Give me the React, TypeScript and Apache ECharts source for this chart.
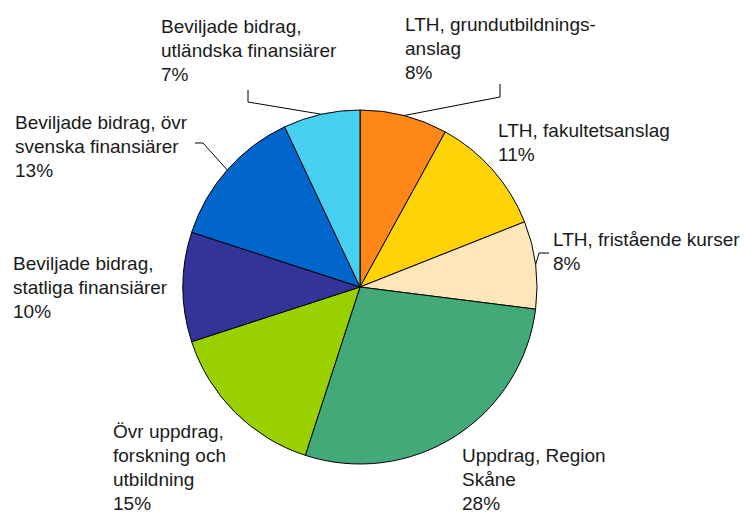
import React, { useEffect, useRef } from "react";
import * as echarts from "echarts";

const categories = [
  "LTH, grundutbildnings-\nanslag",
  "LTH, fakultetsanslag",
  "LTH, fristående kurser",
  "Uppdrag, Region\nSkåne",
  "Övr uppdrag,\nforskning och\nutbildning",
  "Beviljade bidrag,\nstatliga finansiärer",
  "Beviljade bidrag, övr\nsvenska finansiärer",
  "Beviljade bidrag,\nutländska finansiärer",
];
const values = [8, 11, 8, 28, 15, 10, 13, 7];
const colors = ["#FF8717", "#FFD308", "#FFE6B8", "#44A978", "#99D100", "#333399", "#0066CC", "#47CFF2"];
const hasLeader = [true, false, true, false, false, false, true, true];

// label layout (top-left of text box) and leader bends
const labelPos: [number, number][] = [
  [405, 12],
  [498, 118],
  [553, 227],
  [462, 443],
  [113, 419],
  [13, 251],
  [15, 110],
  [161, 14],
];
const leaderBends: ([number, number][] | null)[] = [
  [[500, 97], [500, 84]],
  null,
  [[539, 253], [549, 253]],
  null,
  null,
  null,
  [[203, 143], [195, 143]],
  [[248, 102], [248, 90]],
];

export default function App() {
  const ref = useRef<HTMLDivElement>(null);
  useEffect(() => {
    if (!ref.current) return;
    const chart = echarts.init(ref.current, undefined, { renderer: "svg" });
    chart.setOption({
      animation: false,
      backgroundColor: "#ffffff",
      series: [
        {
          type: "pie",
          center: [360, 287],
          radius: 177,
          startAngle: 90,
          clockwise: true,
          avoidLabelOverlap: false,
          silent: true,
          itemStyle: { borderColor: "#000", borderWidth: 1 },
          label: {
            show: true,
            position: "outside",
            color: "#1a1a1a",
            fontFamily: "'Liberation Sans', Arial, sans-serif",
            fontSize: 19,
            lineHeight: 24,
            align: "left",
            formatter: (p: any) => `${p.name}\n${Math.round(p.percent)}%`,
          },
          labelLine: {
            show: true,
            length: 10,
            length2: 10,
            lineStyle: { color: "#000", width: 1 },
          },
          labelLayout: (params: any) => {
            const i = params.dataIndex;
            const [x, y] = labelPos[i];
            const res: any = { x, y, align: "left", verticalAlign: "top" };
            const bends = leaderBends[i];
            if (bends && params.labelLinePoints) {
              res.labelLinePoints = [params.labelLinePoints[0], ...bends];
            }
            return res;
          },
          data: categories.map((name, i) => ({
            name,
            value: values[i],
            itemStyle: { color: colors[i] },
            labelLine: { show: hasLeader[i] },
          })),
        },
      ],
    });
    return () => chart.dispose();
  }, []);
  return (
    <div
      ref={ref}
      style={{ position: "fixed", left: 0, top: 0, width: 744, height: 515 }}
    />
  );
}
